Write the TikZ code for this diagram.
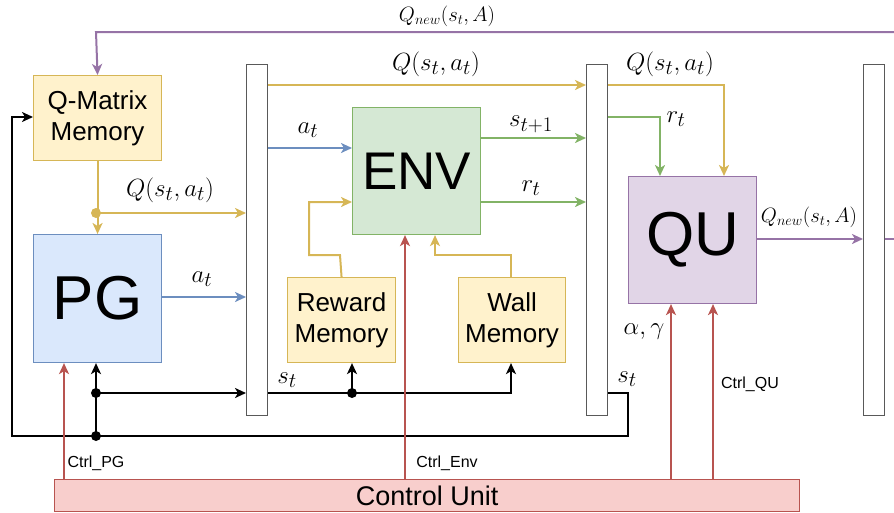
\documentclass[tikz,border=0pt]{standalone}
\usepackage{fontspec}
\setmainfont{Liberation Sans}
\usetikzlibrary{arrows.meta}
\definecolor{yfill}{HTML}{FFF2CC}\definecolor{ydraw}{HTML}{D6B656}
\definecolor{gfill}{HTML}{D5E8D4}\definecolor{gdraw}{HTML}{82B366}
\definecolor{bfill}{HTML}{DAE8FC}\definecolor{bdraw}{HTML}{6C8EBF}
\definecolor{pfill}{HTML}{E1D5E7}\definecolor{pdraw}{HTML}{9673A6}
\definecolor{rfill}{HTML}{F8CECC}\definecolor{rdraw}{HTML}{B85450}
\begin{document}
\begin{tikzpicture}[x=1pt,y=-1pt,
  box/.style={draw=#1draw,fill=#1fill,line width=1.1pt,inner sep=0pt,anchor=north west},
  bar/.style={draw=black!65,fill=white,line width=1.2pt,anchor=north west,minimum width=21pt,minimum height=351pt,inner sep=0pt},
  conn/.style={line width=2pt,-{Stealth[length=11pt,width=10pt,inset=3pt]}},
  plain/.style={line width=2pt},
  dot/.style={circle,fill=#1,inner sep=0pt,minimum size=10pt},
  mlab/.style={font=\fontsize{28}{30}\selectfont},
  slab/.style={font=\fontsize{20}{22}\selectfont},
  tlab/.style={font=\fontsize{16}{18}\selectfont},
  mem/.style={font=\fontsize{26}{31}\selectfont,align=center},
]
\useasboundingbox (0,0) rectangle (894,512);
% boxes
\node[box=y,minimum width=128pt,minimum height=85pt,mem] (qm) at (33,75) {Q-Matrix\\Memory};
\node[box=b,minimum width=128pt,minimum height=128pt,font=\fontsize{62}{62}\selectfont] (pg) at (33,234) {PG};
\node[box=g,minimum width=128pt,minimum height=127pt,font=\fontsize{53}{53}\selectfont] (env) at (352,107) {ENV};
\node[box=p,minimum width=128pt,minimum height=127pt,font=\fontsize{62}{62}\selectfont] (qu) at (628,176) {QU};
\node[box=y,minimum width=108pt,minimum height=85pt,mem] (rm) at (287,277) {Reward\\Memory};
\node[box=y,minimum width=107pt,minimum height=85pt,mem] (wm) at (458,277) {Wall\\Memory};
\node[box=r,minimum width=745pt,minimum height=32pt,font=\fontsize{27}{27}\selectfont] (cu) at (54,479) {Control Unit};
\node[bar] (b1) at (246,64) {};
\node[bar] (b2) at (586,64) {};
\node[bar] (b3) at (863,64) {};
% coordinates
\coordinate (edgeTop) at (894,32);
\coordinate (edgeMid) at (894,239);
\coordinate (d1) at (96,213);
\coordinate (d2) at (96,393);
\coordinate (d3) at (96,436);
\coordinate (d4) at (352,393);
% purple
\draw[pdraw,conn] (edgeTop) -- (96,32) -- (qm.north);
\draw[pdraw,conn] (qu.east |- edgeMid) -- (b3.west |- edgeMid);
\draw[pdraw,plain] (b3.east |- edgeMid) -- (edgeMid);
\node[slab] at (447,16) {$Q_{new}(s_t,A)$};
\node[slab] at (809,217) {$Q_{new}(s_t,A)$};
% yellow
\draw[ydraw,conn] (qm.south) -- (pg.north);
\node[dot=ydraw] at (d1) {};
\draw[ydraw,conn] (d1) -- (b1.west |- d1);
\node[mlab] at (170,190) {$Q(s_t,a_t)$};
\draw[ydraw,conn] (b1.east |- 0,85) -- (b2.west |- 0,85);
\node[mlab] at (436,64) {$Q(s_t,a_t)$};
\draw[ydraw,conn] (b2.east |- 0,85) -| (qu.north -| 724,0);
\node[mlab] at (670,64) {$Q(s_t,a_t)$};
\draw[ydraw,conn] (rm.north) -- (340,255) -- (309,255) -- (309,202) -- (env.west |- 0,202);
\draw[ydraw,conn] (wm.north -| 511,0) -- (511,255) -- (435,255) -- (env.south -| 435,0);
% blue
\draw[bdraw,conn] (b1.east |- 0,148) -- (env.west |- 0,148);
\node[mlab] at (308,130) {$a_t$};
\draw[bdraw,conn] (pg.east |- 0,297) -- (b1.west |- 0,297);
\node[mlab] at (202,279) {$a_t$};
% green
\draw[gdraw,conn] (env.east |- 0,138) -- (b2.west |- 0,138);
\node[mlab] at (531,124) {$s_{t+1}$};
\draw[gdraw,conn] (env.east |- 0,202) -- (b2.west |- 0,202);
\node[mlab] at (531,188) {$r_t$};
\draw[gdraw,conn] (b2.east |- 0,117) -| (qu.north -| 660,0);
\node[mlab] at (676,119) {$r_t$};
% black
\draw[black,conn] (b2.east |- 0,393) -- (628,393) -- (628,436) -- (12,436) -- (12,117) -- (qm.west |- 0,117);
\node[dot=black] at (d3) {};
\draw[black,conn] (d3) -- (pg.south -| d3);
\node[dot=black] at (d2) {};
\draw[black,conn] (d2) -- (b1.west |- d2);
\draw[black,conn] (b1.east |- d2) -| (wm.south -| 511,0);
\node[dot=black] at (d4) {};
\draw[black,conn] (d4) -- (rm.south -| d4);
\node[mlab] at (287,380) {$s_t$};
\node[mlab] at (627,379) {$s_t$};
% red
\draw[rdraw,conn] (cu.north -| 64,0) -- (pg.south -| 64,0);
\node[tlab] at (96,463) {Ctrl\_PG};
\draw[rdraw,conn] (cu.north -| 405,0) -- (env.south -| 405,0);
\node[tlab] at (447,463) {Ctrl\_Env};
\draw[rdraw,conn] (cu.north -| 671,0) -- (qu.south -| 671,0);
\node[mlab] at (644,332) {$\alpha,\gamma$};
\draw[rdraw,conn] (cu.north -| 713,0) -- (qu.south -| 713,0);
\node[tlab] at (750,384) {Ctrl\_QU};
\end{tikzpicture}
\end{document}
